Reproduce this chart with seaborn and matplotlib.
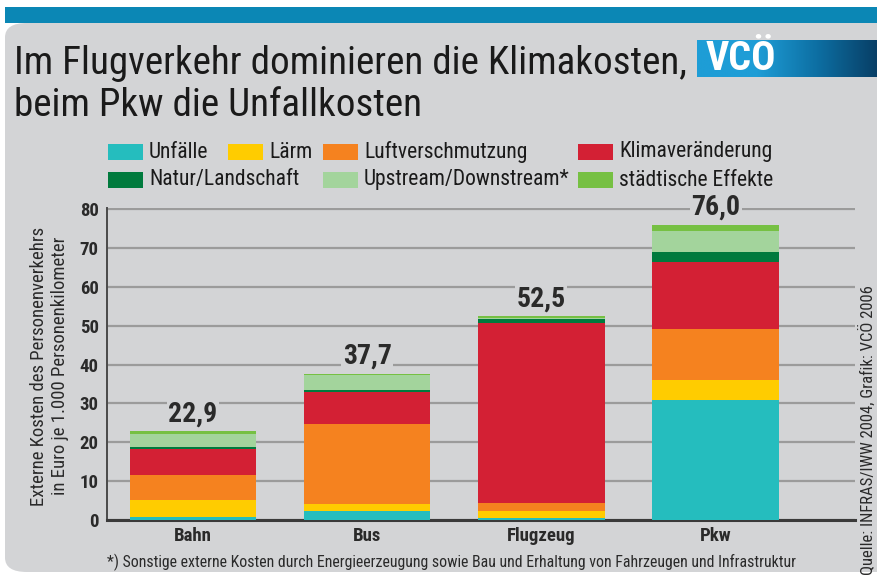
import pandas as pd
import seaborn as sns
import matplotlib.pyplot as plt
from matplotlib.patches import FancyBboxPatch, Rectangle
from matplotlib.colors import LinearSegmentedColormap
import numpy as np

# Data (Euro per 1,000 passenger km)
categories = ["Bahn", "Bus", "Flugzeug", "Pkw"]
components = ["Unfälle", "Lärm", "Luftverschmutzung", "Klimaveränderung",
              "Natur/Landschaft", "Upstream/Downstream*", "städtische Effekte"]
unfaelle = [0.7, 2.3, 0.6, 31.0]
laerm = [4.4, 1.7, 1.7, 5.0]
luft = [6.4, 20.6, 2.1, 13.1]
klima = [6.8, 8.4, 46.4, 17.3]
natur = [0.5, 0.5, 1.0, 2.6]
upstream = [3.25, 3.85, 0.3, 5.4]
staedtisch = [0.85, 0.35, 0.4, 1.6]
total_labels = ["22,9", "37,7", "52,5", "76,0"]
colors = ["#25BDBE", "#FFCC00", "#F5821F", "#D32034", "#007A3D", "#A3D49C", "#76C043"]

series = [unfaelle, laerm, luft, klima, natur, upstream, staedtisch]
df = pd.DataFrame({c: s for c, s in zip(components, series)}, index=categories)
cum = df.cumsum(axis=1)

BG = "#D3D4D6"
W, H = 877, 575
plt.rcParams["font.family"] = ["Roboto Condensed", "Open Sans Condensed",
                               "Liberation Sans Narrow", "DejaVu Sans"]

fig = plt.figure(figsize=(W / 100, H / 100), dpi=100)
fig.patch.set_facecolor("white")


def fx(px):
    return px / W


def fy(py):
    return 1 - py / H


# gray panel and blue top band
fig.patches.append(FancyBboxPatch((fx(5), fy(572)), fx(900), fy(23) - fy(572),
                                  boxstyle="round,pad=0,rounding_size=0.025",
                                  transform=fig.transFigure, facecolor=BG,
                                  edgecolor="none", zorder=-2))
fig.patches.append(Rectangle((fx(5), fy(23)), 1, fy(7) - fy(23),
                             transform=fig.transFigure, facecolor="#0B87B5",
                             edgecolor="none", zorder=-1))

# title
fig.text(fx(14), fy(63), "Im Flugverkehr dominieren die Klimakosten,", fontsize=28.2,
         va="center", ha="left", color="#1a1a1a")
fig.text(fx(14), fy(106), "beim Pkw die Unfallkosten", fontsize=28.2,
         va="center", ha="left", color="#1a1a1a")

# logo
lax = fig.add_axes([fx(697), fy(77), fx(W - 697), fy(40) - fy(77)])
grad = np.linspace(0, 1, 256).reshape(1, -1)
cmap = LinearSegmentedColormap.from_list("vco", ["#1E9DD6", "#1E9DD6", "#0D6FA3", "#083F66"])
lax.imshow(grad, aspect="auto", cmap=cmap, extent=[0, 1, 0, 1])
lax.text(0.05, 0.48, "VCÖ", color="white", fontsize=29, fontweight="bold",
         va="center", ha="left", transform=lax.transAxes)
lax.axis("off")

# legend (manual, irregular columns)
legend_pos = [(108, 152), (228, 152), (323, 152), (578, 152),
              (108, 180), (323, 180), (578, 180)]
for (px, py), name, col in zip(legend_pos, components, colors):
    fig.patches.append(Rectangle((fx(px), fy(py + 8)), fx(35), fy(py - 8) - fy(py + 8),
                                 transform=fig.transFigure, facecolor=col,
                                 edgecolor="none", zorder=2))
    fig.text(fx(px + 41), fy(py), name, fontsize=15.5, va="center", ha="left",
             color="#1a1a1a")

# main axes
ax = fig.add_axes([fx(107), fy(520), fx(855) - fx(107), fy(208) - fy(520)])
ax.set_facecolor(BG)
for i in range(len(components) - 1, -1, -1):
    sns.barplot(x=categories, y=cum[components[i]].values, color=colors[i],
                saturation=1, width=0.725, linewidth=0, ax=ax, zorder=3)

for i, (cat, lab) in enumerate(zip(categories, total_labels)):
    ax.text(i, cum.loc[cat].iloc[-1] + 1.0, lab, ha="center", va="bottom",
            fontsize=20, fontweight="bold", color="#2a2a2a", zorder=5,
            bbox=dict(facecolor=BG, edgecolor="none", pad=1))

ax.set_xlim(-0.494, 3.80)
ax.set_ylim(0, 80.3)
ax.set_yticks(range(0, 81, 10))
ax.yaxis.grid(True, color="#9b9b9b", linewidth=1.6)
ax.set_axisbelow(True)
ax.tick_params(length=0, labelsize=13.5)
ax.tick_params(axis="y", pad=6)
ax.tick_params(axis="x", pad=5)
for lab in ax.get_xticklabels() + ax.get_yticklabels():
    lab.set_fontweight("bold")
    lab.set_color("#2a2a2a")
for s in ["top", "right"]:
    ax.spines[s].set_visible(False)
ax.spines["left"].set_color("#4a4a4a")
ax.spines["left"].set_linewidth(1.4)
ax.spines["bottom"].set_color("#3a3a3a")
ax.spines["bottom"].set_linewidth(2.2)
ax.set_xlabel("")
ax.set_ylabel("")

# y label (two lines)
fig.text(fx(39), fy(366), "Externe Kosten des Personenverkehrs", rotation=90,
         fontsize=13.5, va="center", ha="center", color="#2a2a2a")
fig.text(fx(60), fy(366), "in Euro je 1.000 Personenkilometer", rotation=90,
         fontsize=13.5, va="center", ha="center", color="#2a2a2a")

# footnote and source
fig.text(fx(107), fy(562), "*) Sonstige externe Kosten durch Energieerzeugung sowie Bau und "
         "Erhaltung von Fahrzeugen und Infrastruktur", fontsize=11.4, va="center",
         ha="left", color="#2a2a2a")
fig.text(fx(867), fy(575), "Quelle: INFRAS/IWW 2004, Grafik: VCÖ 2006", rotation=90,
         fontsize=12, va="bottom", ha="center", color="#2a2a2a")

fig.savefig("out.png", dpi=100, facecolor=fig.get_facecolor())
